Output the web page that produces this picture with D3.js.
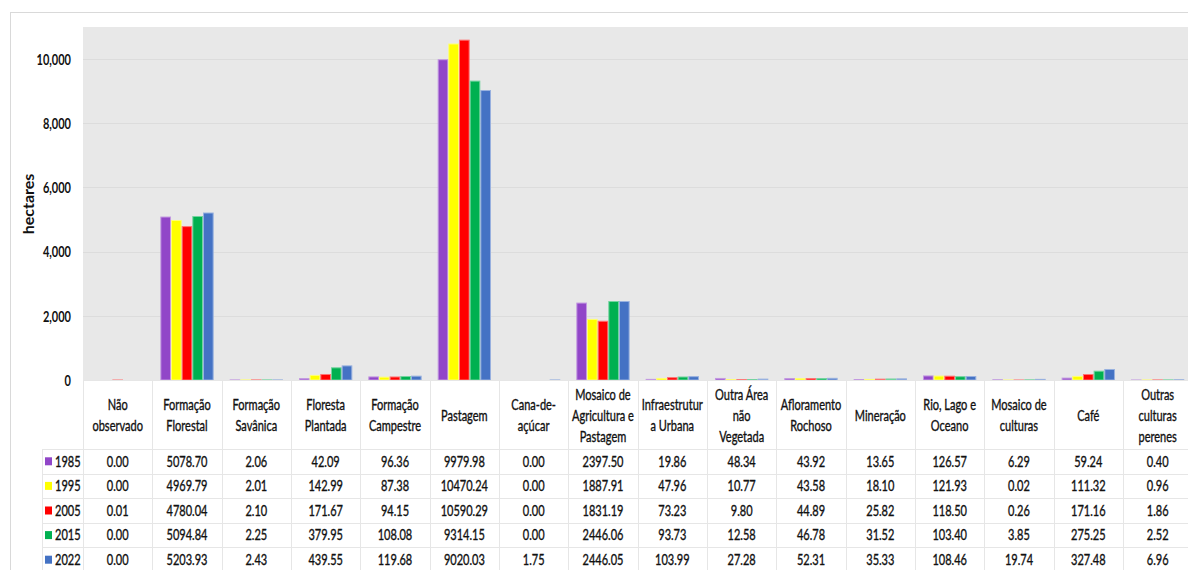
<!DOCTYPE html>
<html>
<head>
<meta charset="utf-8">
<script src="https://cdn.jsdelivr.net/npm/d3@7"></script>
<style>
  html, body { margin: 0; padding: 0; background: #fff; }
  svg { display: block; }
  text { font-family: Lato, "Open Sans", "DejaVu Sans", sans-serif; fill: #111; }
  text.tbl { stroke: #111; stroke-width: 0.35px; }
</style>
</head>
<body>
<svg id="chart" width="1188" height="570"></svg>
<script>
// ---- data ----
const categories = [
  "Não\nobservado",
  "Formação\nFlorestal",
  "Formação\nSavânica",
  "Floresta\nPlantada",
  "Formação\nCampestre",
  "Pastagem",
  "Cana-de-\naçúcar",
  "Mosaico de\nAgricultura e\nPastagem",
  "Infraestrutur\na Urbana",
  "Outra Área\nnão\nVegetada",
  "Afloramento\nRochoso",
  "Mineração",
  "Rio, Lago e\nOceano",
  "Mosaico de\nculturas",
  "Café",
  "Outras\nculturas\nperenes"
];
const years = ["1985", "1995", "2005", "2015", "2022"];
const colors = ["#9146C8", "#FFFF00", "#FF0000", "#00B050", "#4472C4"];
const v1985 = [0.00, 5078.70, 2.06, 42.09, 96.36, 9979.98, 0.00, 2397.50, 19.86, 48.34, 43.92, 13.65, 126.57, 6.29, 59.24, 0.40];
const v1995 = [0.00, 4969.79, 2.01, 142.99, 87.38, 10470.24, 0.00, 1887.91, 47.96, 10.77, 43.58, 18.10, 121.93, 0.02, 111.32, 0.96];
const v2005 = [0.01, 4780.04, 2.10, 171.67, 94.15, 10590.29, 0.00, 1831.19, 73.23, 9.80, 44.89, 25.82, 118.50, 0.26, 171.16, 1.86];
const v2015 = [0.00, 5094.84, 2.25, 379.95, 108.08, 9314.15, 0.00, 2446.06, 93.73, 12.58, 46.78, 31.52, 103.40, 3.85, 275.25, 2.52];
const v2022 = [0.00, 5203.93, 2.43, 439.55, 119.68, 9020.03, 1.75, 2446.05, 103.99, 27.28, 52.31, 35.33, 108.46, 19.74, 327.48, 6.96];
const yTicks = [0, 2000, 4000, 6000, 8000, 10000];
const yTitle = "hectares";

const seriesValues = [v1985, v1995, v2005, v2015, v2022];

// ---- layout ----
const svg = d3.select("#chart");
const W = 1188, H = 570;
const plotLeft = 83, plotRight = 1192.3, plotTop = 27, zeroY = 380;
const legendLeft = 42;
const headerBottom = 449, rowH = 24.6;
const SX = 0.76;          // horizontal squeeze of the reference text
const FS = 14.5;

const x = d3.scaleBand().domain(d3.range(categories.length)).range([plotLeft, plotRight]).paddingInner(0).paddingOuter(0);
const bw = x.bandwidth();
const x1 = d3.scaleBand().domain(years).range([8, bw - 8]).padding(0);
const y = d3.scaleLinear().domain([0, 11000]).range([zeroY, plotTop]);

function addText(parent, tx, ty, str, opts = {}) {
  const t = parent.append("text")
    .attr("class", "tbl")
    .attr("transform", `translate(${tx},${ty}) scale(${SX},1)`)
    .attr("text-anchor", opts.anchor || "middle")
    .attr("font-size", opts.size || FS)
    .attr("font-weight", opts.weight || "normal")
    .attr("dy", "0.36em")
    .text(str);
  return t;
}

// outer border
svg.append("rect").attr("x", 10.5).attr("y", 12.5).attr("width", W + 20).attr("height", H + 20)
  .attr("fill", "none").attr("stroke", "#d9d9d9").attr("stroke-width", 1);

// plot background
svg.append("rect").attr("x", plotLeft).attr("y", plotTop).attr("width", W - plotLeft).attr("height", zeroY - plotTop)
  .attr("fill", "#e8e8e8");

// gridlines
svg.append("g").selectAll("line").data(yTicks.filter(d => d > 0)).join("line")
  .attr("x1", plotLeft).attr("x2", W)
  .attr("y1", d => Math.round(y(d)) + 0.5).attr("y2", d => Math.round(y(d)) + 0.5)
  .attr("stroke", "#dcdcdc").attr("stroke-width", 1);

// y axis (ticks via d3 axis, labels squeezed)
const yAxis = d3.axisLeft(y).tickValues(yTicks).tickSize(0).tickPadding(0).tickFormat(d3.format(","));
const gy = svg.append("g").attr("transform", `translate(71,0)`).call(yAxis);
gy.select(".domain").remove();
gy.selectAll(".tick text")
  .attr("x", null).attr("dy", "0.36em")
  .attr("transform", `scale(${SX},1)`)
  .attr("font-size", FS).attr("font-weight", "bold")
  .style("font-family", "Lato, 'Open Sans', sans-serif").attr("fill", "#111");

svg.append("text").attr("transform", "translate(34,204) rotate(-90)")
  .attr("text-anchor", "middle").attr("font-size", 16).attr("font-weight", "bold").text(yTitle);

// bars
const lighten = c => d3.interpolateRgb(c, "#ffffff")(0.45);
const groups = svg.append("g").selectAll("g").data(categories).join("g")
  .attr("transform", (d, i) => `translate(${x(i)},0)`);
groups.selectAll("rect").data((d, i) => years.map((yr, k) => ({ yr, k, v: seriesValues[k][i] }))).join("rect")
  .attr("x", d => x1(d.yr) + 0.5)
  .attr("width", x1.bandwidth() - 1)
  .attr("y", d => y(d.v))
  .attr("height", d => Math.max(0, zeroY - y(d.v)))
  .attr("fill", d => colors[d.k])
  .attr("stroke", d => lighten(colors[d.k]))
  .attr("stroke-width", 1);

// ---- data table ----
const tableBottom = headerBottom + rowH * years.length;
const tbl = svg.append("g");
const hLines = [zeroY].concat(d3.range(years.length + 1).map(r => headerBottom + r * rowH));
tbl.selectAll("line.h").data(hLines).join("line").attr("class", "h")
  .attr("x1", (d, i) => i === 0 ? plotLeft : legendLeft).attr("x2", W)
  .attr("y1", d => Math.round(d) + 0.5).attr("y2", d => Math.round(d) + 0.5)
  .attr("stroke", "#e6e6e6").attr("stroke-width", 1);
const vLines = d3.range(categories.length + 1).map(i => i < categories.length ? x(i) : plotRight);
tbl.selectAll("line.v").data(vLines).join("line").attr("class", "v")
  .attr("x1", d => Math.round(d) + 0.5).attr("x2", d => Math.round(d) + 0.5)
  .attr("y1", zeroY).attr("y2", tableBottom)
  .attr("stroke", "#e6e6e6").attr("stroke-width", 1);
tbl.append("line").attr("x1", legendLeft + 0.5).attr("x2", legendLeft + 0.5)
  .attr("y1", headerBottom).attr("y2", tableBottom).attr("stroke", "#e6e6e6");

// header labels
const lineH = 21;
const headerMid = (zeroY + headerBottom) / 2 + 1;
categories.forEach((c, i) => {
  const lines = c.split("\n");
  lines.forEach((ln, j) => {
    addText(tbl, x(i) + bw / 2, headerMid + (j - (lines.length - 1) / 2) * lineH, ln);
  });
});

// rows
years.forEach((yr, r) => {
  const cy = headerBottom + (r + 0.5) * rowH;
  tbl.append("rect").attr("x", 45).attr("y", cy - 4).attr("width", 7).attr("height", 8).attr("fill", colors[r]);
  addText(tbl, 55, cy, yr, { anchor: "start" });
  seriesValues[r].forEach((v, i) => {
    addText(tbl, x(i) + bw / 2, cy, v.toFixed(2));
  });
});
</script>
</body>
</html>
